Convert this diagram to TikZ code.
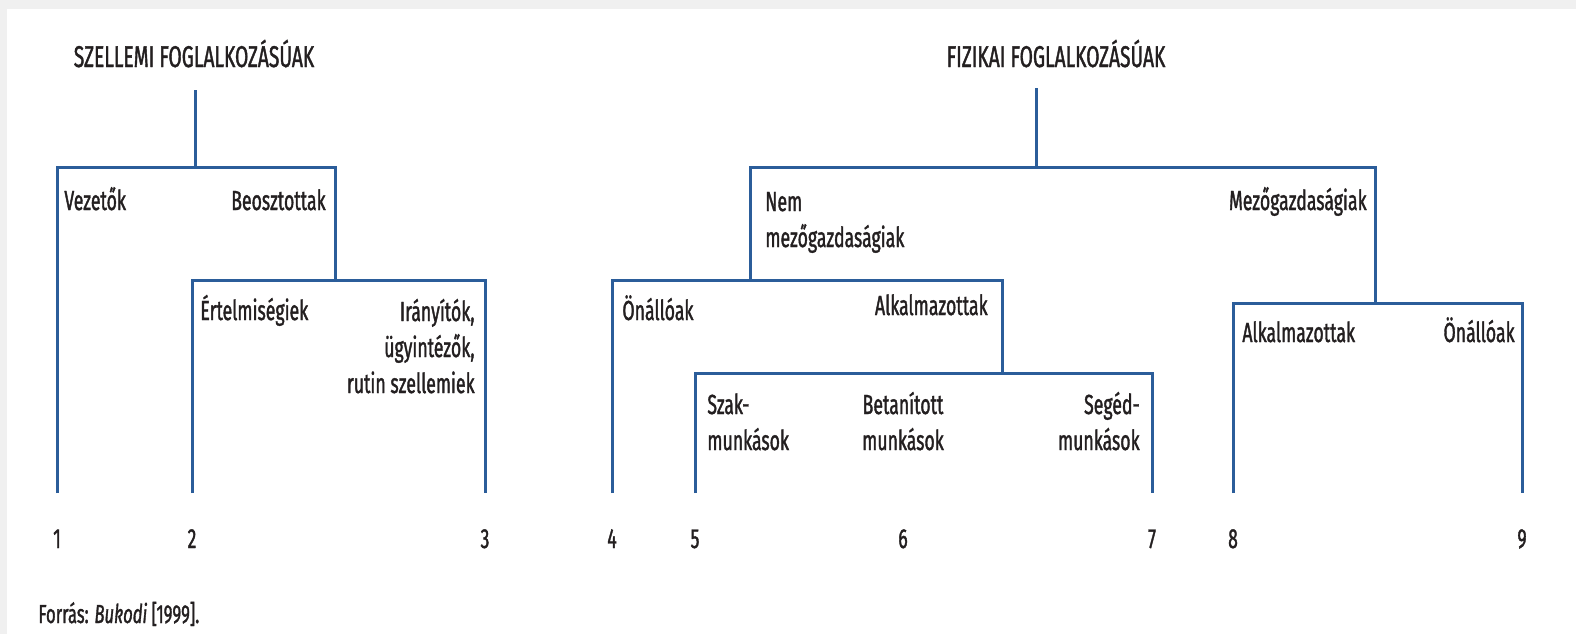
\documentclass[tikz,border=0pt]{standalone}
\usepackage{fontspec}
\setmainfont{Fira Sans}[FakeStretch=0.64, FakeBold=1.3]
\definecolor{ag}{HTML}{2B5D9A}
\definecolor{ink}{HTML}{231F20}
\begin{document}
\begin{tikzpicture}[x=0.5pt, y=-0.5pt,
  branch/.style={draw=ag, line width=1.5pt},
  txt/.style={inner sep=0pt, text=ink, font=\fontsize{13.8}{18}\selectfont},
  title/.style={txt, anchor=base, font=\fontsize{15}{18}\selectfont},
  num/.style={txt, anchor=base}]
	% page
	\fill[gray!12] (0,0) rectangle (1576,634);
	\fill[white] (7,9) rectangle (1576,634);
	\useasboundingbox (0,0) rectangle (1576,634);

	% titles
	\node[title] (szellemi) at (194,67) {SZELLEMI FOGLALKOZÁSÚAK};
	\node[title] (fizikai) at (1056,67) {FIZIKAI FOGLALKOZÁSÚAK};

	% leaves and numbers
	\foreach \i/\x in {1/57, 2/192, 3/485, 4/612, 5/695, 6/903, 7/1152, 8/1233, 9/1522} {
		\coordinate (l\i) at (\x,493);
		\node[num] (n\i) at (\x,548) {\i};
	}

	% junctions
	\coordinate (szell) at (195,90);
	\coordinate (szellj) at (195,167);
	\coordinate (beo) at (335,167);
	\coordinate (beoj) at (335,280);
	\coordinate (fiz) at (1036,88);
	\coordinate (fizj) at (1036,167);
	\coordinate (nemj) at (750,280);
	\coordinate (mg) at (1375,167);
	\coordinate (mgj) at (1375,303);
	\coordinate (alk) at (1002,280);
	\coordinate (alkj) at (1002,373);

	\draw[branch] (szell) -- (szellj);
	\draw[branch] (l1) |- (beo) -- (beoj);
	\draw[branch] (l2) |- (beoj) -| (l3);

	\draw[branch] (fiz) -- (fizj);
	\draw[branch] (nemj) |- (mg) -- (mgj);
	\draw[branch] (l4) |- (alk) -- (alkj);
	\draw[branch] (l5) |- (alkj) -| (l7);
	\draw[branch] (l8) |- (mgj) -| (l9);

	% labels (multi-line ones sit on their last line)
	\node[txt, anchor=base west] (vez) at (64,210) {Vezetők};
	\node[txt, anchor=base east] (beosz) at (326,210) {Beosztottak};
	\node[txt, anchor=base west] (ertel) at (200,320) {Értelmiségiek};
	\node[txt, anchor=base east, align=right] (iranyi) at (475,393) {Irányítók,\\ügyintézők,\\rutin szellemiek};
	\node[txt, anchor=base west, align=left] (nemmg) at (765,247) {Nem\\mezőgazdaságiak};
	\node[txt, anchor=base east] (mezog) at (1367,210) {Mezőgazdaságiak};
	\node[txt, anchor=base west] (onall1) at (622,320) {Önállóak};
	\node[txt, anchor=base east] (alkal1) at (988,315) {Alkalmazottak};
	\node[txt, anchor=base west, align=left] (szak) at (707,450) {Szak-\\munkások};
	\node[txt, anchor=base, align=center] (betan) at (903,450) {Betanított\\munkások};
	\node[txt, anchor=base east, align=right] (seged) at (1140,450) {Segéd-\\munkások};
	\node[txt, anchor=base west] (alkal2) at (1242,342) {Alkalmazottak};
	\node[txt, anchor=base east] (onall2) at (1515,342) {Önállóak};

	% source
	\node[txt, anchor=base west, font=\fontsize{13}{16}\selectfont] (forras) at (38,623) {Forrás: \textit{Bukodi} [1999].};
\end{tikzpicture}
\end{document}
